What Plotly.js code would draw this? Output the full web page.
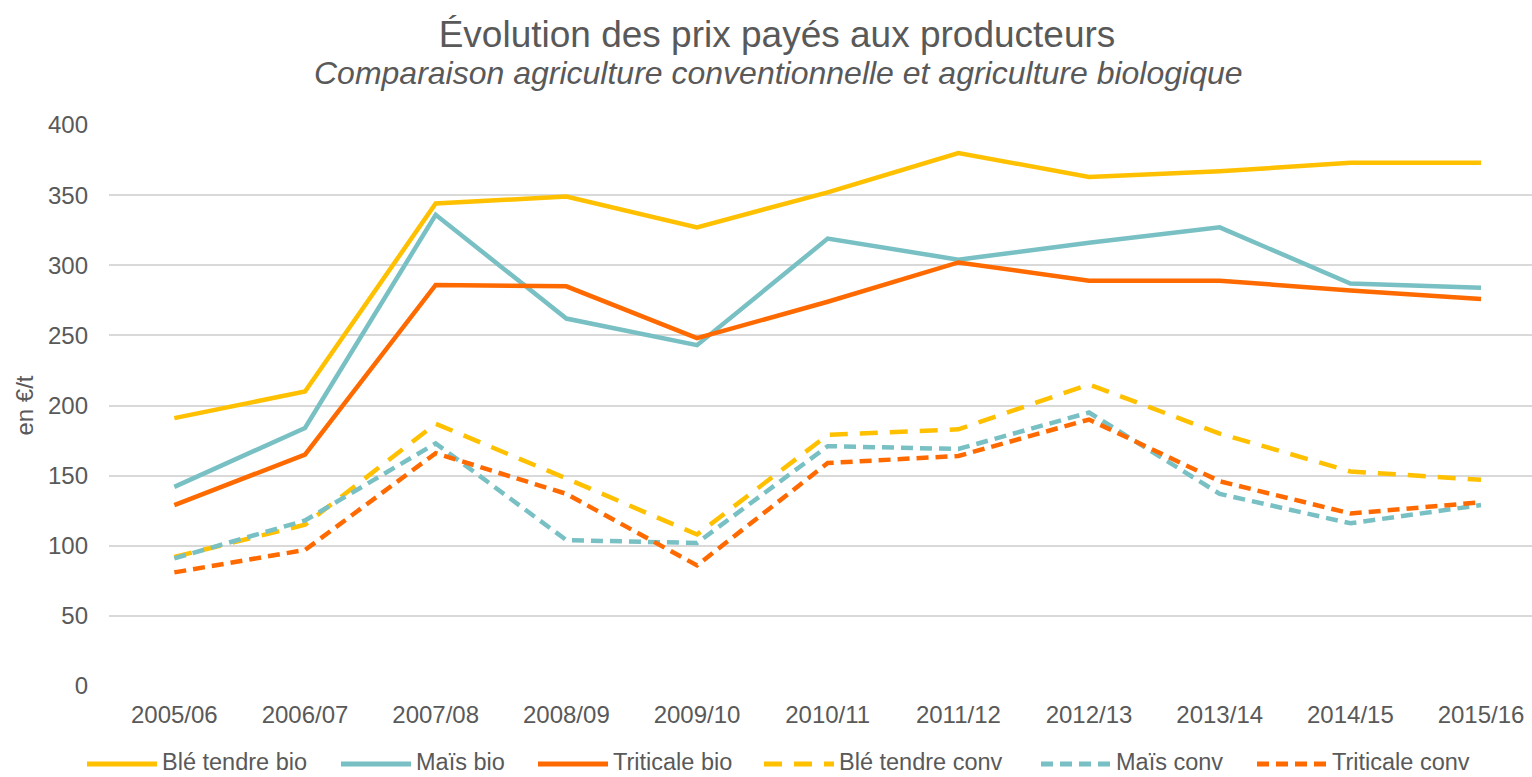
<!DOCTYPE html>
<html>
<head>
<meta charset="utf-8">
<script src="https://cdn.plot.ly/plotly-3.0.1.min.js"></script>
<style>html,body{margin:0;padding:0;background:#fff;}#chart{width:1532px;height:777px;}</style>
</head>
<body>
<div id="chart"></div>
<script>
const campagnes = ["2005/06","2006/07","2007/08","2008/09","2009/10","2010/11","2011/12","2012/13","2013/14","2014/15","2015/16"];
const bleTendreBio = [191, 210, 344, 349, 327, 352, 380, 363, 367, 373, 373];
const maisBio = [142, 184, 336, 262, 243, 319, 304, 316, 327, 287, 284];
const triticaleBio = [129, 165, 286, 285, 248, 274, 302, 289, 289, 282, 276];
const bleTendreConv = [92, 115, 187, 148, 108, 179, 183, 215, 180, 153, 147];
const maisConv = [91, 118, 173, 104, 102, 171, 169, 195, 137, 116, 129];
const triticaleConv = [81, 97, 166, 137, 86, 159, 164, 190, 146, 123, 131];
const seriesNames = ["Blé tendre bio","Maïs bio","Triticale bio","Blé tendre conv","Maïs conv","Triticale conv"];
const yTickVals = [0,50,100,150,200,250,300,350,400];

const COLORS = {ble:"#FFC000", mais:"#78C0C3", tri:"#FF6A00"};
const TXT = "#595959";
const FONT = "Liberation Sans, Arial, sans-serif";

const seriesDefs = [
  {y: bleTendreBio, color: COLORS.ble, dash: "solid"},
  {y: maisBio, color: COLORS.mais, dash: "solid"},
  {y: triticaleBio, color: COLORS.tri, dash: "solid"},
  {y: bleTendreConv, color: COLORS.ble, dash: "18px,12px"},
  {y: maisConv, color: COLORS.mais, dash: "12px,7px"},
  {y: triticaleConv, color: COLORS.tri, dash: "12px,7px"}
];

const traces = seriesDefs.map((s, i) => ({
  type: "scatter", mode: "lines", name: seriesNames[i],
  x: campagnes, y: s.y,
  line: {color: s.color, width: 4.5, dash: s.dash},
  hoverinfo: "x+y+name"
}));

// Custom legend (layout decoration), positions in pixels converted to paper coords
const PL = 109, PR = 1532, PT = 125, PB = 686;
const PW = PR - PL, PH = PB - PT;
const px2x = p => (p - PL) / PW;
const py2y = p => (PB - p) / PH;
const legendStarts = [87, 341, 538, 764, 1041, 1257];
const sampleLen = 70;
const legY = 762;
const shapes = [];
const annotations = [];
seriesDefs.forEach((s, i) => {
  shapes.push({type: "line", xref: "paper", yref: "paper",
    x0: px2x(legendStarts[i]), x1: px2x(legendStarts[i] + sampleLen),
    y0: py2y(legY + 2), y1: py2y(legY + 2),
    line: {color: s.color, width: 5, dash: s.dash}});
  annotations.push({xref: "paper", yref: "paper", x: px2x(legendStarts[i] + sampleLen + 3), y: py2y(legY),
    xanchor: "left", yanchor: "middle", showarrow: false, text: seriesNames[i],
    font: {family: FONT, size: 23.5, color: TXT}});
});
annotations.push({xref: "paper", yref: "paper", x: px2x(778), y: py2y(73),
  xanchor: "center", yanchor: "middle", showarrow: false,
  text: "<i>Comparaison agriculture conventionnelle et agriculture biologique</i>",
  font: {family: FONT, size: 32, color: TXT}});

const layout = {
  width: 1532, height: 777,
  margin: {l: PL, r: 1532 - PR, t: PT, b: 777 - PB},
  paper_bgcolor: "#fff", plot_bgcolor: "#fff",
  font: {family: FONT, color: TXT, size: 24},
  title: {text: "Évolution des prix payés aux producteurs", xref: "container", x: 777/1532,
    yref: "container", y: 1 - 34/777, xanchor: "center", yanchor: "middle",
    font: {family: FONT, size: 37, color: TXT}},
  showlegend: false,
  xaxis: {type: "category", range: [-0.5, 10.39], showgrid: false, zeroline: false, showline: false,
    ticks: "", ticklabelstandoff: 12, tickfont: {family: FONT, size: 24, color: TXT}, fixedrange: true},
  yaxis: {range: [0, 400], tickvals: yTickVals, showgrid: true, gridcolor: "#D9D9D9", gridwidth: 1.5,
    zeroline: false, showline: false, ticks: "", ticklabelstandoff: 20,
    tickfont: {family: FONT, size: 24, color: TXT},
    title: {text: "en €/t", standoff: 7, font: {family: FONT, size: 24, color: TXT}}, fixedrange: true},
  shapes: shapes,
  annotations: annotations
};

Plotly.newPlot("chart", traces, layout, {displayModeBar: false});
</script>
</body>
</html>
